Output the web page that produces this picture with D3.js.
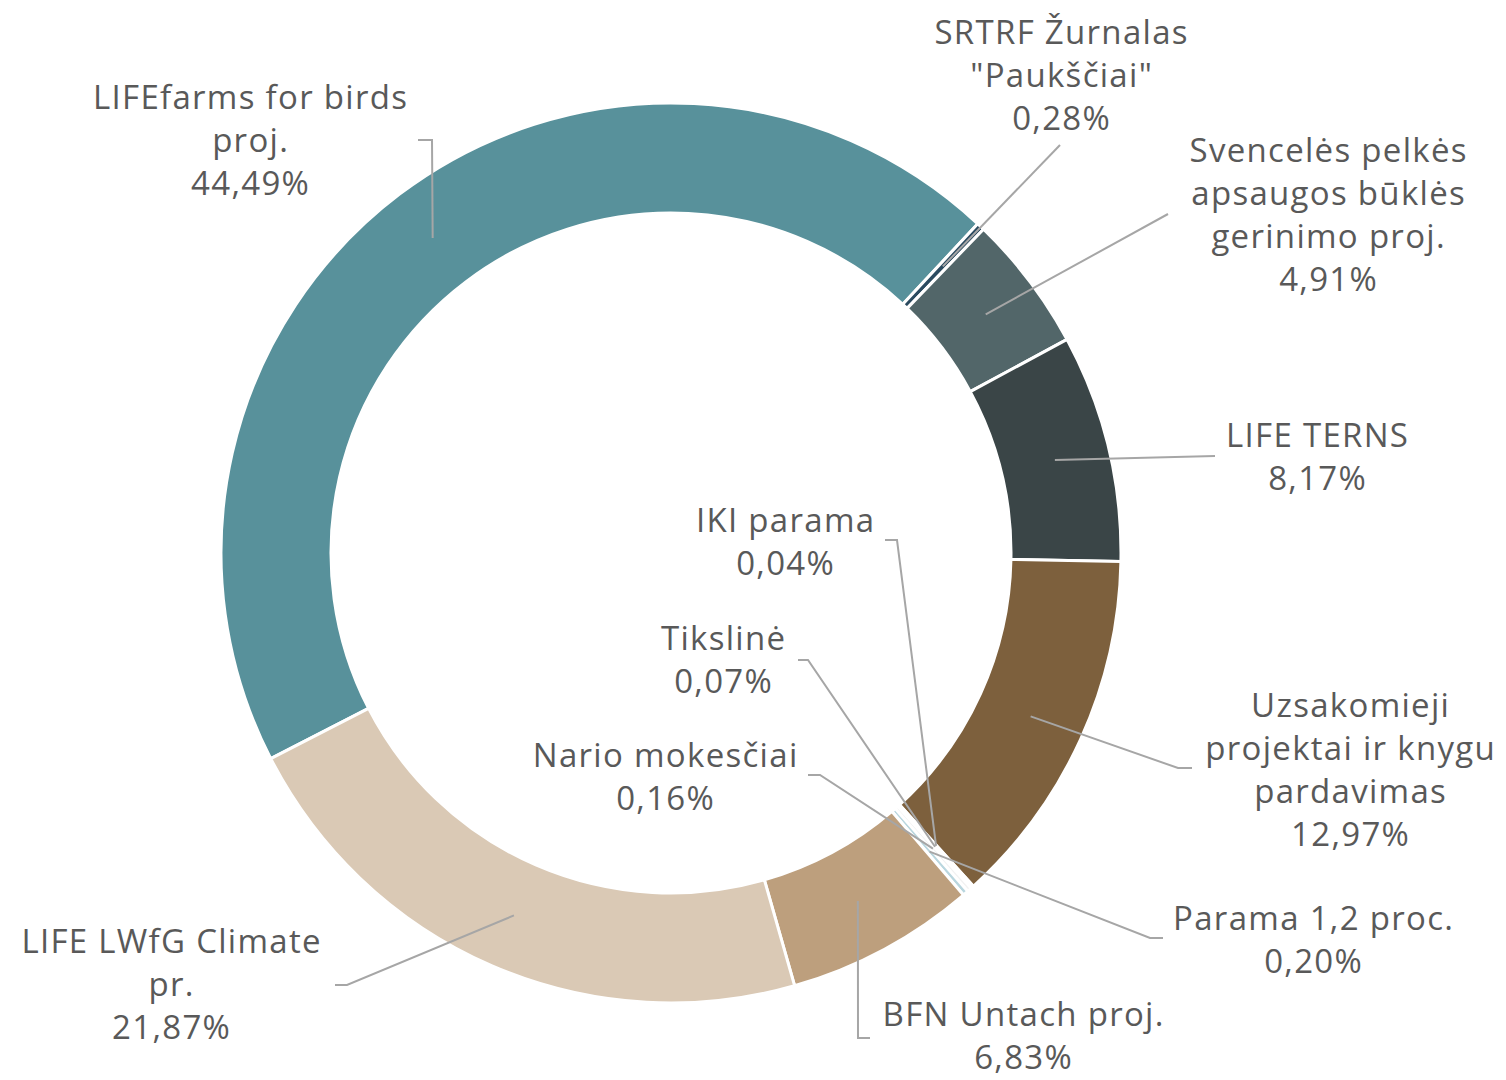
<!DOCTYPE html>
<html><head><meta charset="utf-8">
<script src="https://cdn.jsdelivr.net/npm/d3@7"></script>
<style>body{margin:0;background:#fff;} svg{display:block;}</style>
</head><body>
<svg id="chart" width="1506" height="1080"></svg>
<script>
// ---- data ----
const categories = [
  "LIFEfarms for birds proj.",
  "SRTRF Žurnalas \"Paukščiai\"",
  "Svencelės pelkės apsaugos būklės gerinimo proj.",
  "LIFE TERNS",
  "Uzsakomieji projektai ir knygu pardavimas",
  "IKI parama",
  "Tikslinė",
  "Nario mokesčiai",
  "Parama 1,2 proc.",
  "BFN Untach proj.",
  "LIFE LWfG Climate pr."
];
const values = [44.49, 0.28, 4.91, 8.17, 12.97, 0.04, 0.07, 0.16, 0.20, 6.83, 21.87];
const valueLabels = ["44,49%","0,28%","4,91%","8,17%","12,97%","0,04%","0,07%","0,16%","0,20%","6,83%","21,87%"];
const labelLines = [
  ["LIFEfarms for birds","proj."],
  ["SRTRF Žurnalas","\"Paukščiai\""],
  ["Svencelės pelkės","apsaugos būklės","gerinimo proj."],
  ["LIFE TERNS"],
  ["Uzsakomieji","projektai ir knygu","pardavimas"],
  ["IKI parama"],
  ["Tikslinė"],
  ["Nario mokesčiai"],
  ["Parama 1,2 proc."],
  ["BFN Untach proj."],
  ["LIFE LWfG Climate","pr."]
];

// ---- styling / layout ----
const colors = ["#58919b","#2b4a5f","#526669","#3a4547","#7d603d","#e4eef1","#cfe2e7","#f2f2f2","#b9d6de","#bd9f7d","#dac9b5"];
// label block: center x, first baseline y; leader: label anchor point and elbow
const labelPos = [
  {x:250, y:109, a:[418,140], e:[432,140]},
  {x:1061, y:44, a:[1060,145], e:null},
  {x:1328, y:162, a:[1168,214], e:null},
  {x:1317, y:447, a:[1215,456], e:null},
  {x:1350, y:717, a:[1192,768], e:[1178,768]},
  {x:785, y:532, a:[885,540], e:[897,540]},
  {x:723, y:650, a:[798,660], e:[808,660]},
  {x:665, y:767, a:[808,775], e:[820,775]},
  {x:1313, y:930, a:[1163,938], e:[1150,938]},
  {x:1023, y:1026, a:[870,1038], e:[858,1038]},
  {x:171, y:953, a:[335,985], e:[347,985]}
];
const cx = 671, cy = 553, rOuter = 450, rInner = 340;
const lineH = 43;

const svg = d3.select("#chart");
const g = svg.append("g").attr("transform", `translate(${cx},${cy})`);

const data = categories.map((c,i)=>({cat:c, value:values[i], i}));
const start = 242.8 * Math.PI/180;
const pie = d3.pie().value(d=>d.value).sort(null).startAngle(start).endAngle(start + 2*Math.PI);
const arcs = pie(data);
const arc = d3.arc().innerRadius(rInner).outerRadius(rOuter);
const midArc = d3.arc().innerRadius((rInner+rOuter)/2).outerRadius((rInner+rOuter)/2);

g.selectAll("path.slice").data(arcs).enter().append("path")
  .attr("class","slice")
  .attr("d", arc)
  .attr("fill", d=>colors[d.data.i])
  .attr("stroke","#ffffff")
  .attr("stroke-width",3)
  .attr("stroke-linejoin","round");

// leader lines
const line = d3.line();
svg.selectAll("path.leader").data(arcs).enter().append("path")
  .attr("class","leader")
  .attr("d", d=>{
    const p = labelPos[d.data.i];
    const c = midArc.centroid(d);
    const pts = [p.a];
    if (p.e) pts.push(p.e);
    pts.push([c[0]+cx, c[1]+cy]);
    return line(pts);
  })
  .attr("fill","none")
  .attr("stroke","#a6a6a6")
  .attr("stroke-width",2);

// labels
const font = "'Open Sans', 'Noto Sans', sans-serif";
const ls = 1.3;
arcs.forEach(d=>{
  const i = d.data.i, p = labelPos[i];
  const t = svg.append("text")
    .attr("text-anchor","middle")
    .attr("font-family", font)
    .attr("font-size", 33)
    .attr("letter-spacing", ls)
    .attr("fill","#595959");
  const lines = labelLines[i].concat([valueLabels[i]]);
  lines.forEach((s,k)=>{
    t.append("tspan").attr("x", p.x + ls/2).attr("y", p.y + k*lineH).text(s);
  });
});
</script>
</body></html>
